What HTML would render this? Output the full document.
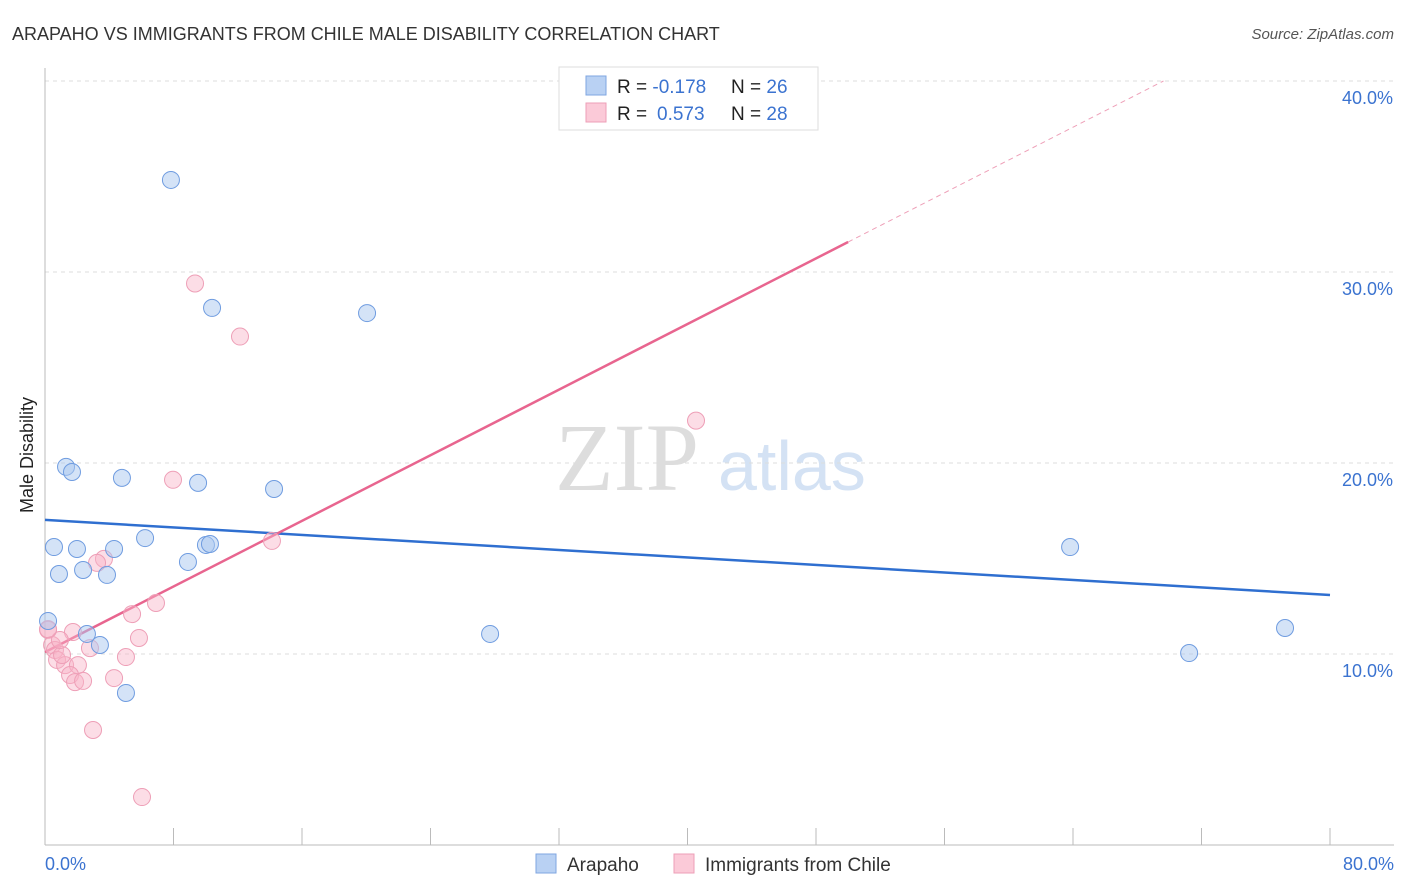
<!DOCTYPE html>
<html><head><meta charset="utf-8">
<style>
body{margin:0;background:#fff;font-family:"Liberation Sans",sans-serif;}
svg{display:block}
</style></head>
<body>
<svg id="chart" width="1406" height="892">
<text x="12" y="40" font-size="18" fill="#333">ARAPAHO VS IMMIGRANTS FROM CHILE MALE DISABILITY CORRELATION CHART</text>
<text x="1394" y="39" font-size="15" fill="#555" font-style="italic" text-anchor="end">Source: ZipAtlas.com</text>
<text x="555" y="490" font-size="96" fill="#ddd" font-family="Liberation Serif,serif">ZIP</text>
<text x="718" y="490" font-size="70" fill="#d4e2f4">atlas</text>
<g id="grid"></g>
<line x1="45" y1="68" x2="45" y2="845" stroke="#bbb"/>
<line x1="45" y1="845" x2="1394" y2="845" stroke="#bbb"/>
<g id="xticks"></g>
<text x="33" y="455" font-size="18" fill="#222" transform="rotate(-90 33 455)" text-anchor="middle">Male Disability</text>
<text x="45" y="870" font-size="18" fill="#3b73d0">0.0%</text>
<text x="1394" y="870" font-size="18" fill="#3b73d0" text-anchor="end">80.0%</text>
<g id="lines"></g>
<g id="points"></g>
<g>
<rect x="559" y="67" width="259" height="63" fill="#fff" stroke="#ddd"/>
<rect x="586" y="76" width="20" height="19" fill="#b9d1f3" stroke="#7fa6e0"/>
<rect x="586" y="103" width="20" height="19" fill="#fbcad8" stroke="#ee9fb7"/>
<text x="617" y="93" font-size="19" fill="#222">R = <tspan fill="#3b73d0">-0.178</tspan><tspan x="731">N = </tspan><tspan fill="#3b73d0">26</tspan></text>
<text x="617" y="120" font-size="19" fill="#222">R = <tspan fill="#3b73d0" x="657">0.573</tspan><tspan x="731">N = </tspan><tspan fill="#3b73d0">28</tspan></text>
</g>
<g>
<rect x="536" y="854" width="20" height="19" fill="#b9d1f3" stroke="#7fa6e0"/>
<text x="567" y="871" font-size="19" fill="#333">Arapaho</text>
<rect x="674" y="854" width="20" height="19" fill="#fbcad8" stroke="#ee9fb7"/>
<text x="705" y="871" font-size="19" fill="#333">Immigrants from Chile</text>
</g>
</svg>
<script>
const yTicks=[10,20,30,40];
const yTickLabels=["10.0%","20.0%","30.0%","40.0%"];
const xTicks=[0,8,16,24,32,40,48,56,64,72,80];
const arapahoX=[7.84,10.40,20.05,1.31,1.68,4.79,9.53,14.26,0.56,1.99,4.30,6.23,10.02,10.27,0.87,2.37,3.86,8.90,0.19,2.61,3.42,5.04,27.71,63.82,71.23,77.20];
const arapahoY=[34.82,28.12,27.85,19.80,19.53,19.22,18.96,18.64,15.60,15.50,15.50,16.07,15.71,15.76,14.19,14.40,14.14,14.82,11.73,11.05,10.47,7.96,11.05,15.60,10.05,11.36];
const chileX=[9.34,12.14,40.53,7.97,14.13,3.67,3.24,5.42,6.91,0.19,1.74,5.85,2.80,0.44,0.62,5.04,0.75,1.25,2.05,1.56,1.87,2.37,4.30,2.99,6.04,1.06,0.93,0.19];
const chileY=[29.40,26.62,22.22,19.12,15.92,14.98,14.77,12.09,12.67,11.26,11.15,10.84,10.31,10.47,10.21,9.84,9.69,9.42,9.42,8.90,8.53,8.59,8.74,6.02,2.51,9.95,10.73,11.30];
const arapahoTrend=[17.02,13.09];
const chileTrend=[10.1,0.4294];
const NS="http://www.w3.org/2000/svg";
const xs=v=>45+v/80*1285;
const ys=v=>654-(v-10)*19.1;
function mk(tag,attrs,parent){const e=document.createElementNS(NS,tag);for(const k in attrs)e.setAttribute(k,attrs[k]);document.getElementById(parent).appendChild(e);return e;}
yTicks.forEach((t,i)=>{
 const l=mk('line',{x1:45,x2:1394,y1:ys(t),y2:ys(t),stroke:'#ddd','stroke-dasharray':'4,4'},'grid');
 
 
 const tx=mk('text',{x:1393,y:ys(t)+23,'font-size':18,fill:'#3b73d0','text-anchor':'end'},'grid');
 tx.textContent=yTickLabels[i];
 
 
});
xTicks.forEach(t=>{
 const l=mk('line',{x1:xs(t),x2:xs(t),y1:828,y2:845,stroke:'#bbb'},'xticks');
 
 
});
let bl=mk('line',{x1:xs(0),y1:ys(arapahoTrend[0]),x2:xs(80),y2:ys(arapahoTrend[1]),stroke:'#2f6fd0','stroke-width':2.5},'lines');


const cy=x=>chileTrend[0]+chileTrend[1]*x;
let pl=mk('line',{x1:xs(0),y1:ys(cy(0)),x2:xs(50),y2:ys(cy(50)),stroke:'#e8658f','stroke-width':2.5},'lines');


const xEnd=(40-chileTrend[0])/chileTrend[1];
let pd=mk('line',{x1:xs(50),y1:ys(cy(50)),x2:xs(xEnd),y2:ys(cy(xEnd)),stroke:'#eea0b8','stroke-width':1,'stroke-dasharray':'5,4'},'lines');


chileX.forEach((x,i)=>{
 const c=mk('circle',{cx:xs(x),cy:ys(chileY[i]),r:8.5,fill:'rgba(248,180,200,0.45)',stroke:'#ee9fb7','stroke-width':1},'points');
 
 
});
arapahoX.forEach((x,i)=>{
 const c=mk('circle',{cx:xs(x),cy:ys(arapahoY[i]),r:8.5,fill:'rgba(170,200,240,0.5)',stroke:'#6f9ce0','stroke-width':1},'points');
 
 
});
</script>
</body></html>
